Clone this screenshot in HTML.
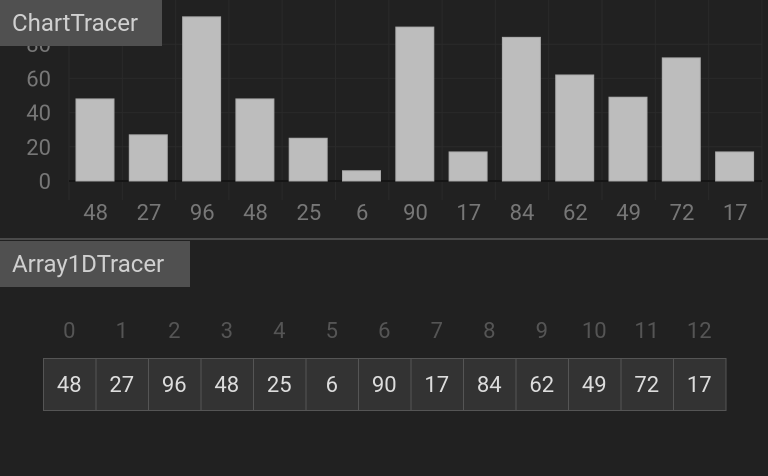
<!DOCTYPE html>
<html><head><meta charset="utf-8"><style>
body{margin:0;width:768px;height:476px;background:#212121;overflow:hidden;font-family:Roboto,"Liberation Sans",sans-serif;}
.title{position:absolute;left:0;background:#505050;color:#d0d0d0;font-size:24px;line-height:46px;padding:0 12px;}
</style></head><body>
<svg id="chart" width="768" height="238" style="position:absolute;left:0;top:0"></svg>
<div class="title" style="top:0;width:138px">ChartTracer</div>
<div style="position:absolute;left:0;top:238px;width:768px;height:2px;background:#4a4a4a"></div>
<div class="title" style="top:241px;width:166px">Array1DTracer</div>
<svg id="arr" width="768" height="230" style="position:absolute;left:0;top:241px"></svg>
<script>
const categories=["48","27","96","48","25","6","90","17","84","62","49","72","17"];
const values=[48,27,96,48,25,6,90,17,84,62,49,72,17];
const yTicks=[0,20,40,60,80];
const NS="http://www.w3.org/2000/svg";
function mk(p,t,a){const e=document.createElementNS(NS,t);for(const k in a)e.setAttribute(k,a[k]);p.appendChild(e);return e;}
const svg=document.getElementById('chart');
const x0=69,step=53.3,yBase=181,k=1.71;
const X=i=>x0+i*step, Y=v=>yBase-v*k;
for(let i=0;i<=categories.length;i++){const l=mk(svg,'line',{x1:X(i),x2:X(i),y1:0,y2:200,stroke:'#2a2a2a','stroke-width':1});

}
yTicks.forEach(t=>{const l=mk(svg,'line',{x1:x0,x2:762,y1:Y(t),y2:Y(t),stroke:t===0?'#151515':'#2a2a2a','stroke-width':t===0?2:1});


const tx=mk(svg,'text',{x:51,y:Y(t)+8,'text-anchor':'end',fill:'#777','font-size':22,'font-family':'Roboto,"Liberation Sans",sans-serif'});tx.textContent=t;

});
values.forEach((v,i)=>{const r=mk(svg,'rect',{x:X(i)+7,y:Y(v),width:38,height:v*k,fill:'#bdbdbd',stroke:'#aaa','stroke-width':1});


const tx=mk(svg,'text',{x:X(i)+step/2,y:220,'text-anchor':'middle',fill:'#777','font-size':22,'font-family':'Roboto,"Liberation Sans",sans-serif'});tx.textContent=categories[i];

});
const arr=document.getElementById('arr');
const ax=43,aw=52.5;
values.forEach((v,i)=>{const t=mk(arr,'text',{x:ax+i*aw+aw/2,y:97,'text-anchor':'middle',fill:'#555','font-size':22,'font-family':'Roboto,"Liberation Sans",sans-serif'});t.textContent=i;


const r=mk(arr,'rect',{x:ax+i*aw+0.5,y:117.5,width:aw,height:52,fill:'#333',stroke:'#555','stroke-width':1});


const c=mk(arr,'text',{x:ax+i*aw+aw/2,y:151,'text-anchor':'middle',fill:'#ddd','font-size':22,'font-family':'Roboto,"Liberation Sans",sans-serif'});c.textContent=v;

});
</script>
</body></html>
